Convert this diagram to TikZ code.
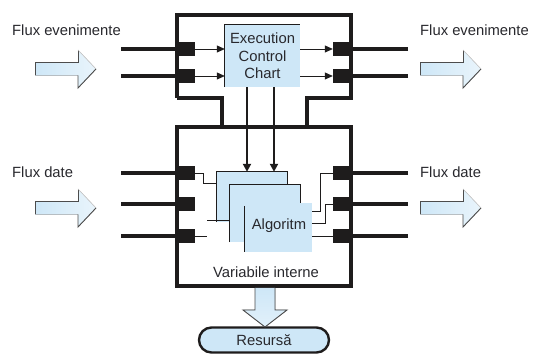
\documentclass[tikz,border=0pt]{standalone}
\usepackage{fontspec}
\setmainfont{Liberation Sans}
\usetikzlibrary{arrows.meta}
\definecolor{blu}{RGB}{206,231,247}
\definecolor{ink}{RGB}{30,28,28}
\definecolor{txt}{RGB}{40,40,45}
\begin{document}
\begin{tikzpicture}[x=1pt,y=-1pt,line join=miter]
\useasboundingbox (0,0) rectangle (533,355);
\tikzset{
  frameline/.style={line width=3.6pt, draw=ink},
  feedline/.style={line width=3.6pt, draw=ink},
  port/.style={fill=ink, draw=none, minimum width=18pt, minimum height=14pt, inner sep=0pt},
  wire/.style={line width=0.8pt, draw=ink},
  lbl/.style={font=\fontsize{14.8}{17.5}\selectfont, text=txt, inner sep=0pt},
  bluebox/.style={fill=blu, draw=none, inner sep=0pt},
  tip/.style={-{Triangle[length=8pt,width=7pt]}},
  hollowarrow/.pic={
    \fill[left color=blu, right color=blu!45] (0,-6.5) -- (43,-6.5) -- (43,-19) -- (61,0) -- (43,19) -- (43,6.5) -- (0,6.5) -- cycle;
    \draw[line width=0.9pt, draw=gray!60!black] (0,6.5) -- (0,-6.5) -- (43,-6.5) -- (43,-19);
    \draw[line width=0.6pt, draw=gray!40] (43,-19) -- (61,0);
    \draw[line width=0.9pt, draw=gray!60!black] (61,0) -- (43,19) -- (43,6.5);
  }
}
% frame
\draw[frameline] (177,98) -- (177,15) -- (351,15) -- (351,98) -- (307,98) -- (307,127);
\draw[frameline] (177,98) -- (222,98) -- (222,127);
\draw[frameline] (177,127) rectangle (351,286);

% labels
\node[lbl, anchor=west] (lfe) at (12,30) {Flux evenimente};
\node[lbl, anchor=west] (rfe) at (420,30) {Flux evenimente};
\node[lbl, anchor=west] (lfd) at (12,172) {Flux date};
\node[lbl, anchor=west] (rfd) at (420,172) {Flux date};

% hollow arrows
\pic at (35,69) {hollowarrow};
\pic at (35,208) {hollowarrow};
\pic at (420,69) {hollowarrow};
\pic at (420,208) {hollowarrow};

% ECC
\node[bluebox, minimum width=75pt, minimum height=62pt] (ecc) at (262.5,56) {};
\draw[wire] (ecc.south west) -- (ecc.north west) -- (ecc.north east);
\node[lbl, align=center] (ecct) at (ecc.center) {Execution\\Control\\Chart};

% ports
\node[port] (pe1) at (186,49) {};
\node[port] (pe2) at (186,76) {};
\node[port] (po1) at (342,49) {};
\node[port] (po2) at (342,76) {};
\node[port] (pd1) at (186,173) {};
\node[port] (pd2) at (186,204) {};
\node[port] (pd3) at (186,236) {};
\node[port] (pr1) at (342,173) {};
\node[port] (pr2) at (342,204) {};
\node[port] (pr3) at (342,236) {};

% outer feed lines
\coordinate (ie1) at (121,49);
\coordinate (ie2) at (121,76);
\coordinate (oe1) at (408,49);
\coordinate (oe2) at (408,76);
\coordinate (id1) at (121,173);
\coordinate (id2) at (121,204);
\coordinate (id3) at (121,236);
\coordinate (od1) at (408,173);
\coordinate (od2) at (408,204);
\coordinate (od3) at (408,236);
\foreach \a/\b in {ie1/pe1,ie2/pe2,id1/pd1,id2/pd2,id3/pd3,oe1/po1,oe2/po2,od1/pr1,od2/pr2,od3/pr3}
  \draw[feedline] (\a) -- (\b.center);

% event arrows to/from ECC
\draw[wire, tip] (pe1.east) -- (pe1.east -| ecc.west);
\draw[wire, tip] (pe2.east) -- (pe2.east -| ecc.west);
\draw[wire, tip] (po1.west -| ecc.east) -- (po1.west);
\draw[wire, tip] (po2.west -| ecc.east) -- (po2.west);

% algorithm stack
\node[bluebox, minimum width=70pt, minimum height=50pt] (alg1) at (252,197) {};
\draw[wire] (alg1.south west) -- (alg1.north west) -- (alg1.north east) -- (alg1.south east);
\node[bluebox, minimum width=70pt, minimum height=57pt] (alg2) at (265,213.5) {};
\draw[wire] (alg2.south west) -- (alg2.north west) -- (alg2.north east) -- (alg2.south east);
\node[bluebox, minimum width=67pt, minimum height=49pt] (alg3) at (278.5,227.5) {};
\draw[wire] (alg3.north west) ++(0,3) -- (alg3.south west);
\node[lbl] (algt) at (279,226) {Algoritm};

% ECC to algorithm
\draw[line width=2pt, draw=ink, -{Triangle[length=8pt,width=8pt]}] (ecc.south -| 247,0) -- (alg1.north -| 247,0);
\draw[line width=2pt, draw=ink, -{Triangle[length=8pt,width=8pt]}] (ecc.south -| 274,0) -- (alg1.north -| 274,0);

% data wires, left
\draw[wire] (pd1.east) -- (203,173) -- (203,183) -- (alg1.west |- 0,183);
\draw[wire] (207,220) -- (alg2.west |- 0,220);
\draw[wire] (pd3.east) -- ++(12,0);
% data wires, right
\draw[wire] (pr1.west) -- (320,173) -- (320,211) -- (alg3.east |- 0,211);
\draw[wire] (pr2.west) -- (325,204) -- (325,223) -- (alg3.east |- 0,223);
\draw[wire] (pr3.west) -- (alg3.east |- pr3);

\node[lbl] (vi) at (266,272) {Variabile interne};

% resource arrow
\node[fill=blu, draw=ink, line width=2.4pt, rounded corners=12.5pt, minimum width=130pt, minimum height=25pt, inner sep=0pt, font=\fontsize{14.8}{17.5}\selectfont, text=txt] (res) at (264,340) {Resursă};
\fill[top color=blu, bottom color=blu!60] (255,288) -- (255,310) -- (243,310) -- (265,327) -- (287,310) -- (275,310) -- (275,288) -- cycle;
\draw[line width=0.9pt, draw=gray!60!black] (255,288) -- (255,310) -- (243,310) -- (265,327) -- (287,310) -- (275,310) -- (275,288);
\end{tikzpicture}
\end{document}
